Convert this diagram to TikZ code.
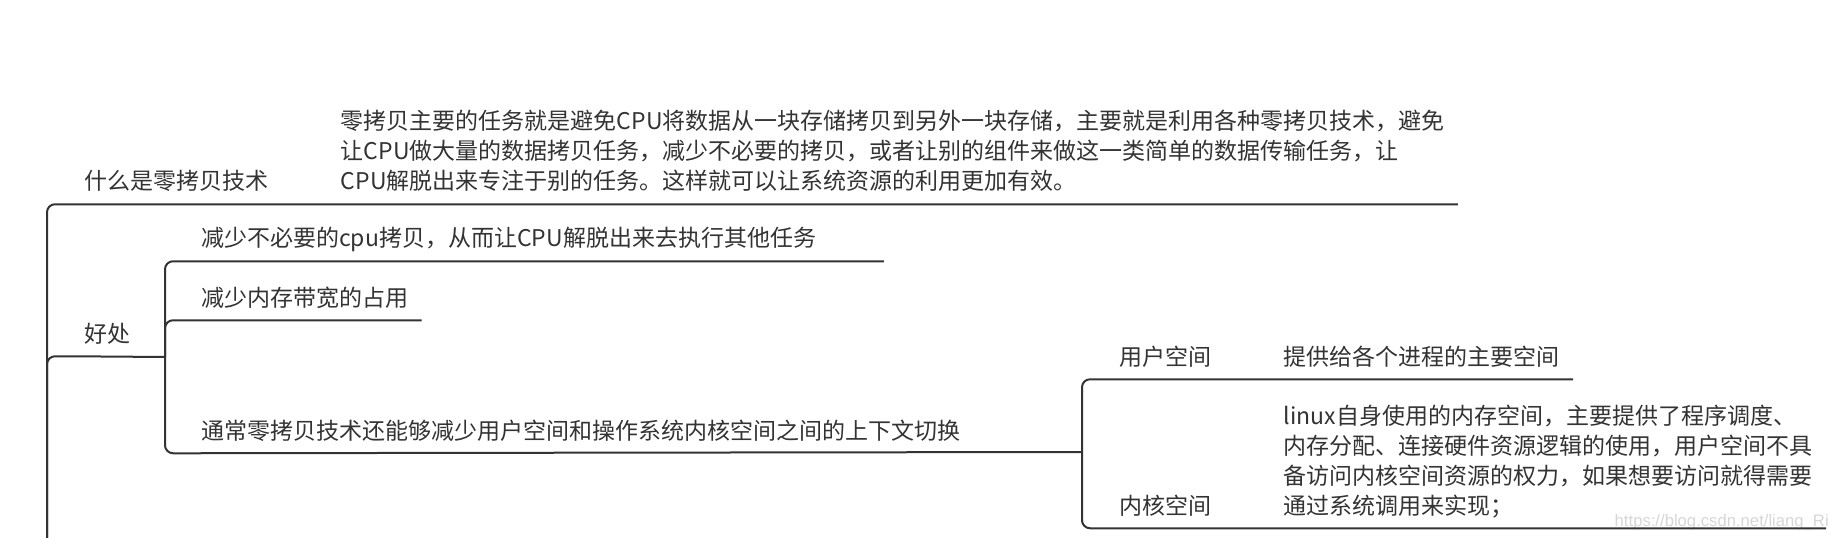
\documentclass[tikz,border=0pt]{standalone}
\usepackage{fontspec}
\setmainfont{Noto Sans CJK SC}
\newfontfamily\markfont{Liberation Sans}
\usepackage{xcolor}
\usetikzlibrary{positioning}
\definecolor{inkgray}{HTML}{333333}
\definecolor{markgray}{HTML}{D6D6D6}

\begin{document}
\begin{tikzpicture}[x=0.75pt, y=-0.75pt, node distance=34.5pt,
    topic/.style={inner xsep=9.75pt, inner ysep=0pt, text depth=10.5pt, anchor=base west,
        text=inkgray, font=\fontsize{17.25pt}{22.5pt}\selectfont},
    branch/.style={draw=inkgray, line width=1.5pt, rounded corners=6pt}]
    \clip (0,0) rectangle (1831,538);

    % Nodes
    \node[topic] (what) at (71,190) {什么是零拷贝技术};
    \node[topic, base right=of what] (whatdesc) {\begin{tabular}[b]{@{}l@{}}
        零拷贝主要的任务就是避免CPU将数据从一块存储拷贝到另外一块存储，主要就是利用各种零拷贝技术，避免\\
        让CPU做大量的数据拷贝任务，减少不必要的拷贝，或者让别的组件来做这一类简单的数据传输任务，让\\
        CPU解脱出来专注于别的任务。这样就可以让系统资源的利用更加有效。\end{tabular}};
    \node[topic] (benefit) at (71,342) {好处};
    \node[topic, text width=502pt, align=left] (less) at (188,247) {减少不必要的cpu拷贝，从而让CPU解脱出来去执行其他任务};
    \node[topic] (band) at (188,306) {减少内存带宽的占用};
    \node[topic] (ctx) at (188,439) {通常零拷贝技术还能够减少用户空间和操作系统内核空间之间的上下文切换};
    \node[topic] (user) at (1106,365) {用户空间};
    \node[topic, base right=of user] (userdesc) {提供给各个进程的主要空间};
    \node[topic] (kernel) at (1106,514) {内核空间};
    \node[topic, base right=of kernel] (kerneldesc) {\begin{tabular}[b]{@{}l@{}}
        linux自身使用的内存空间，主要提供了程序调度、\\
        内存分配、连接硬件资源逻辑的使用，用户空间不具\\
        备访问内核空间资源的权力，如果想要访问就得需要\\
        通过系统调用来实现；\end{tabular}};
    \node[anchor=base east, inner sep=0pt, text=markgray, font=\markfont\fontsize{12.5pt}{14pt}\selectfont] (mark) at (1829,526) {https://blog.csdn.net/liang\_Ri};

    % Hubs
    \coordinate (rootfoot) at (47,560);
    \coordinate (benefithub) at (165,357);
    \coordinate (ctxhub) at (1082,452);

    % Branches
    \draw[branch] (rootfoot) |- (what.south west) -- (whatdesc.south east);
    \draw[branch] (rootfoot) |- (benefit.south west) -- (benefithub);
    \draw[branch] (benefithub) |- (less.south west) -- (less.south east);
    \draw[branch] (benefithub) |- (band.south west) -- (band.south east);
    \draw[branch] (benefithub) |- (ctx.south west) -- (ctxhub);
    \draw[branch] (ctxhub) |- (user.south west) -- (userdesc.south east);
    \draw[branch] (ctxhub) |- (kernel.south west) -- (kerneldesc.south east);

\end{tikzpicture}
\end{document}
